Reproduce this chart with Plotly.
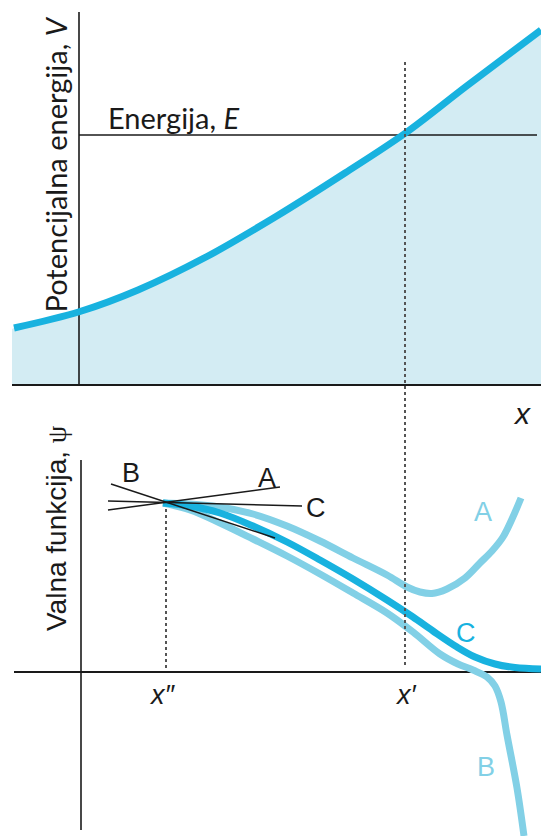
import plotly.graph_objects as go

# ---------------- data (x in arbitrary position units) ----------------
# Top panel: potential energy V(x)
pot_x = [-1.34, -1.30, 0.02, 1.18, 2.56, 3.94, 5.32, 6.53, 7.74, 9.24]
pot_v = [1.12, 1.14, 1.47, 1.90, 2.57, 3.37, 4.24, 5.04, 5.97, 7.10]
energy_E = 5.0
x_prime = 6.52
x_dprime = 1.74
x_left = -1.34
x_right = 9.24
v_axis_top = 7.46

# Bottom panel: trial wave functions
psiA_x = [1.68, 2.22, 2.82, 3.48, 4.16, 4.82, 5.48, 6.16, 6.56, 6.82, 7.06, 7.36, 7.72, 8.02, 8.26, 8.48, 8.66, 8.84]
psiA_y = [3.38, 3.36, 3.30, 3.16, 2.92, 2.62, 2.28, 1.94, 1.70, 1.60, 1.57, 1.66, 1.88, 2.18, 2.42, 2.70, 3.06, 3.48]

psiC_x = [1.68, 2.22, 2.82, 3.48, 4.16, 4.82, 5.48, 6.16, 6.68, 7.08, 7.56, 7.92, 8.32, 8.72, 9.24]
psiC_y = [3.38, 3.32, 3.18, 2.92, 2.60, 2.24, 1.86, 1.44, 1.10, 0.82, 0.50, 0.30, 0.16, 0.09, 0.06]

psiB_x = [1.68, 2.22, 2.82, 3.48, 4.16, 4.82, 5.48, 6.16, 6.68, 7.22, 7.58, 7.88, 8.16, 8.32, 8.44, 8.56, 8.76, 8.90]
psiB_y = [3.38, 3.24, 2.98, 2.66, 2.32, 1.96, 1.58, 1.18, 0.80, 0.36, 0.16, 0.04, -0.10, -0.28, -0.60, -1.26, -2.32, -3.28]

# tangent lines at x''
tanA_x = [0.58, 4.02]
tanA_y = [3.24, 3.70]
tanB_x = [0.64, 3.92]
tanB_y = [3.76, 2.68]
tanC_x = [0.58, 4.46]
tanC_y = [3.42, 3.32]
psi_axis_top = 4.24
psi_axis_bottom = -3.16
psi_x_left = -1.30

DARK = "#18b2df"
LIGHT = "#82d0e6"
FILL = "#d3ecf3"
INK = "#1a1a1a"

fig = go.Figure()

# fill under potential
fig.add_trace(go.Scatter(x=pot_x, y=pot_v, mode="lines", line=dict(width=0, shape="spline"),
                         fill="tozeroy", fillcolor=FILL, xaxis="x", yaxis="y", hoverinfo="skip"))
# top axes
fig.add_trace(go.Scatter(x=[0, 0], y=[0, v_axis_top], mode="lines", line=dict(color=INK, width=1.6),
                         xaxis="x", yaxis="y"))
fig.add_trace(go.Scatter(x=[x_left, x_right], y=[0, 0], mode="lines", line=dict(color=INK, width=2),
                         xaxis="x", yaxis="y"))
# energy level
fig.add_trace(go.Scatter(x=[0, x_right - 0.08], y=[energy_E, energy_E], mode="lines",
                         line=dict(color=INK, width=1.6), xaxis="x", yaxis="y"))
# potential curve
fig.add_trace(go.Scatter(x=pot_x[1:], y=pot_v[1:], mode="lines", line=dict(color=DARK, width=7, shape="spline"),
                         xaxis="x", yaxis="y"))

# bottom axes
fig.add_trace(go.Scatter(x=[0.04, 0.04], y=[psi_axis_bottom, psi_axis_top], mode="lines",
                         line=dict(color=INK, width=1.6), xaxis="x", yaxis="y2"))
fig.add_trace(go.Scatter(x=[psi_x_left, x_right], y=[0, 0], mode="lines",
                         line=dict(color=INK, width=2), xaxis="x", yaxis="y2"))
# x'' dotted
fig.add_trace(go.Scatter(x=[x_dprime, x_dprime], y=[0.08, 3.30], mode="lines",
                         line=dict(color="#555", width=2, dash="dot"), xaxis="x", yaxis="y2"))

# wave functions
fig.add_trace(go.Scatter(x=psiA_x, y=psiA_y, mode="lines", line=dict(color=LIGHT, width=7, shape="spline", smoothing=1.0),
                         xaxis="x", yaxis="y2"))
fig.add_trace(go.Scatter(x=psiB_x, y=psiB_y, mode="lines", line=dict(color=LIGHT, width=7, shape="spline", smoothing=1.0),
                         xaxis="x", yaxis="y2"))
fig.add_trace(go.Scatter(x=psiC_x, y=psiC_y, mode="lines", line=dict(color=DARK, width=7, shape="spline", smoothing=1.0),
                         xaxis="x", yaxis="y2"))
for tx, ty in [(tanA_x, tanA_y), (tanB_x, tanB_y), (tanC_x, tanC_y)]:
    fig.add_trace(go.Scatter(x=tx, y=ty, mode="lines", line=dict(color=INK, width=1.5),
                             xaxis="x", yaxis="y2"))

# x' dotted line spanning both panels
fig.add_shape(type="line", xref="x", yref="paper", x0=x_prime, x1=x_prime,
              y0=1 - 665 / 836, y1=1 - 62 / 836, line=dict(color="#555", width=2, dash="dot"))

ann = []
ann.append(dict(text="Potencijalna energija, <i>V</i>", x=-0.49, y=4.4, xref="x", yref="y", textangle=-90,
                font=dict(size=29, color=INK, family="Lato"), showarrow=False))
ann.append(dict(text="Energija, <i>E</i>", x=1.88, y=5.36, xref="x", yref="y",
                font=dict(size=29, color=INK, family="Lato"), showarrow=False))
ann.append(dict(text="<i>x</i>", x=8.86, y=-0.56, xref="x", yref="y",
                font=dict(size=30, color=INK, family="Liberation Sans"), showarrow=False))
ann.append(dict(text="Valna funkcija, <span style='font-family:Liberation Serif'>ψ</span>", x=-0.46, y=2.88,
                xref="x", yref="y2", textangle=-90,
                font=dict(size=28, color=INK, family="Liberation Sans"), showarrow=False))
ann.append(dict(text="<i>x″</i>", x=1.66, y=-0.46, xref="x", yref="y2",
                font=dict(size=27, color=INK, family="Liberation Sans"), showarrow=False))
ann.append(dict(text="<i>x′</i>", x=6.54, y=-0.46, xref="x", yref="y2",
                font=dict(size=27, color=INK, family="Liberation Sans"), showarrow=False))
for t, xx, yy in [("B", 1.04, 3.98), ("A", 3.76, 3.88), ("C", 4.74, 3.28)]:
    ann.append(dict(text=t, x=xx, y=yy, xref="x", yref="y2",
                    font=dict(size=27, color=INK, family="Liberation Sans"), showarrow=False))
for t, xx, yy, c in [("A", 8.08, 3.2, LIGHT), ("C", 7.74, 0.78, DARK), ("B", 8.14, -1.9, LIGHT)]:
    ann.append(dict(text=t, x=xx, y=yy, xref="x", yref="y2",
                    font=dict(size=27, color=c, family="Liberation Sans"), showarrow=False))

fig.update_layout(
    width=541, height=836, margin=dict(l=0, r=0, t=0, b=0),
    paper_bgcolor="white", plot_bgcolor="white", showlegend=False,
    xaxis=dict(range=[-1.58, 9.24], domain=[0, 1], visible=False, fixedrange=True),
    yaxis=dict(range=[-0.7, 7.7], domain=[1 - 420 / 836, 1], visible=False, anchor="x"),
    yaxis2=dict(range=[-3.28, 5.04], domain=[0, 1 - 420 / 836], visible=False, anchor="x"),
    annotations=ann,
)

fig.write_html("out.html", config={"displayModeBar": False},
               post_script="document.body.style.margin='0';document.body.style.overflow='hidden';")
